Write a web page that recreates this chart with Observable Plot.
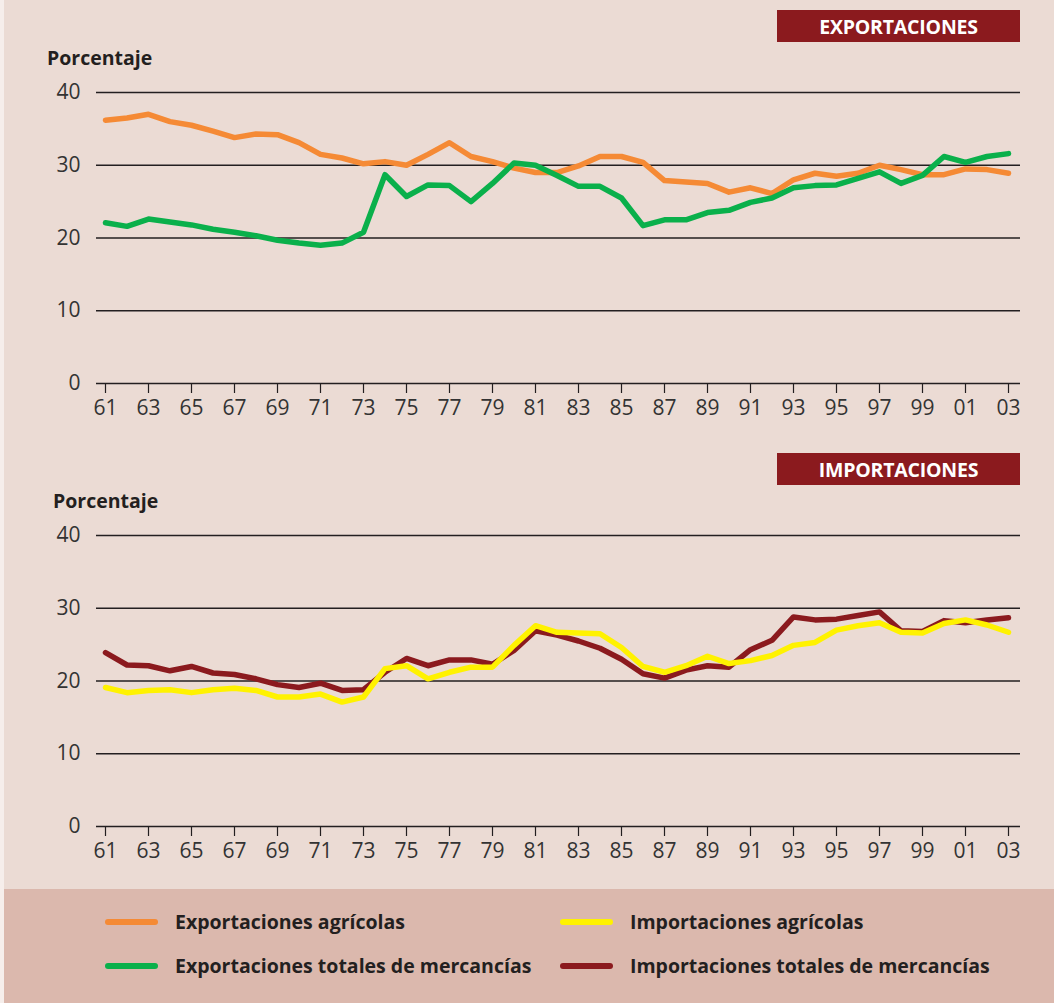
<!DOCTYPE html>
<html>
<head>
<meta charset="utf-8">
<script src="https://cdn.jsdelivr.net/npm/d3@7"></script>
<script src="https://cdn.jsdelivr.net/npm/@observablehq/plot@0.6"></script>
<style>
  html, body { margin:0; padding:0; }
  body { width:1054px; height:1003px; background:#EBDBD4; font-family:"Open Sans", sans-serif; position:relative; overflow:hidden; }
  .strip { position:absolute; left:0; top:0; width:4px; height:1003px; background:#F6EEEB; }
  .hdr { position:absolute; left:777px; width:243px; height:32px; background:#8B1A1E; color:#fff; font-weight:700; font-size:19.5px; display:flex; align-items:center; justify-content:center; letter-spacing:-0.2px; }
  .ylab { position:absolute; font-weight:700; font-size:19.5px; color:#231F20; }
  .chartbox { position:absolute; left:0; }
  .legend { position:absolute; left:4px; top:889px; width:1050px; height:114px; background:#DBB8AD; }
  .item { position:absolute; display:flex; align-items:center; font-weight:700; font-size:19.5px; color:#231F20; }
  .sw { width:53px; height:6px; border-radius:3px; margin-right:17px; }
</style>
</head>
<body>
<div class="strip"></div>
<div id="root"></div>
<script>
const years = [1961,1962,1963,1964,1965,1966,1967,1968,1969,1970,1971,1972,1973,1974,1975,1976,1977,1978,1979,1980,1981,1982,1983,1984,1985,1986,1987,1988,1989,1990,1991,1992,1993,1994,1995,1996,1997,1998,1999,2000,2001,2002,2003];
const tickYears = [1961,1963,1965,1967,1969,1971,1973,1975,1977,1979,1981,1983,1985,1987,1989,1991,1993,1995,1997,1999,2001,2003];
const yTicks = [0,10,20,30,40];

const exportacionesAgricolas = [36.2,36.5,37.0,36.0,35.5,34.7,33.8,34.3,34.2,33.1,31.5,31.0,30.2,30.5,30.0,31.5,33.1,31.2,30.5,29.6,29.0,29.0,29.9,31.2,31.2,30.4,27.9,27.7,27.5,26.3,26.9,26.1,28.0,28.9,28.5,28.9,30.0,29.4,28.7,28.7,29.5,29.4,28.9];
const exportacionesTotales = [22.1,21.6,22.6,22.2,21.8,21.2,20.8,20.3,19.7,19.3,19.0,19.3,20.8,28.7,25.7,27.3,27.2,25.0,27.5,30.3,30.0,28.6,27.1,27.1,25.5,21.7,22.5,22.5,23.5,23.8,24.9,25.5,26.9,27.2,27.3,28.2,29.1,27.5,28.6,31.2,30.4,31.2,31.6];
const importacionesAgricolas = [19.1,18.4,18.7,18.8,18.4,18.8,19.0,18.7,17.8,17.8,18.2,17.1,17.8,21.7,22.1,20.3,21.2,21.9,21.9,24.9,27.6,26.7,26.6,26.5,24.6,22.0,21.2,22.1,23.4,22.4,22.8,23.5,24.9,25.3,27.0,27.6,28.0,26.7,26.6,27.9,28.4,27.7,26.7];
const importacionesTotales = [23.9,22.2,22.1,21.4,22.0,21.1,20.9,20.3,19.5,19.1,19.7,18.7,18.8,21.2,23.1,22.1,22.9,22.9,22.3,24.2,26.9,26.3,25.5,24.5,23.0,21.0,20.4,21.5,22.1,21.9,24.3,25.6,28.8,28.4,28.5,29.0,29.5,26.9,26.8,28.3,28.0,28.4,28.7];

const seriesNames = ["Exportaciones agrícolas","Exportaciones totales de mercancías","Importaciones agrícolas","Importaciones totales de mercancías"];
const seriesColors = ["#F58A35","#0AB04B","#FFF200","#8B1A1E"];
const panelTitles = ["EXPORTACIONES","IMPORTACIONES"];
const axisTitle = "Porcentaje";

function toRows(values) { return years.map((y, i) => ({year: y, value: values[i]})); }

function chart(lines) {
  return Plot.plot({
    width: 1054, height: 360,
    marginTop: 22, marginBottom: 47, marginLeft: 96, marginRight: 34,
    style: {background: "transparent", fontFamily: "Open Sans, sans-serif", fontSize: "21px", color: "#231F20", overflow: "visible"},
    x: {type: "linear", domain: [1961, 2003], insetLeft: 9, insetRight: 12},
    y: {domain: [0, 40]},
    marks: [
      Plot.ruleY(yTicks, {stroke: "#231F20", strokeWidth: 1.4}),
      ...lines.map(([vals, color]) => Plot.lineY(toRows(vals), {x: "year", y: "value", stroke: color, strokeWidth: 5.5, strokeLinejoin: "round", strokeLinecap: "round"})),
      Plot.axisX(tickYears, {tickSize: 10, tickPadding: 7, tickFormat: d => String(d % 100).padStart(2, "0"), label: null, fill: "#333", fontSize: 21, strokeWidth: 1.2}),
      Plot.axisY(yTicks, {tickSize: 0, tickPadding: 16, label: null, fill: "#333", fontSize: 21})
    ]
  });
}

const root = document.getElementById("root");
function place(el, top) { const box = document.createElement("div"); box.className = "chartbox"; box.style.top = top + "px"; box.appendChild(el); root.appendChild(box); }

place(chart([[exportacionesAgricolas, seriesColors[0]], [exportacionesTotales, seriesColors[1]]]), 70);
place(chart([[importacionesTotales, seriesColors[3]], [importacionesAgricolas, seriesColors[2]]]), 513);

function addDiv(cls, text, css) { const d = document.createElement("div"); d.className = cls; d.textContent = text; Object.assign(d.style, css); document.body.appendChild(d); return d; }
addDiv("hdr", panelTitles[0], {top: "10px"});
addDiv("hdr", panelTitles[1], {top: "453px"});
addDiv("ylab", axisTitle, {left: "47px", top: "44px"});
addDiv("ylab", axisTitle, {left: "53px", top: "487px"});

const legend = document.createElement("div"); legend.className = "legend"; document.body.appendChild(legend);
const pos = [[101, 19], [101, 63], [556, 19], [556, 63]];
seriesNames.forEach((name, i) => {
  const it = document.createElement("div"); it.className = "item";
  it.style.left = pos[i][0] + "px"; it.style.top = pos[i][1] + "px";
  const sw = document.createElement("div"); sw.className = "sw"; sw.style.background = seriesColors[i];
  const t = document.createElement("span"); t.textContent = name;
  it.appendChild(sw); it.appendChild(t); legend.appendChild(it);
});
</script>
</body>
</html>
